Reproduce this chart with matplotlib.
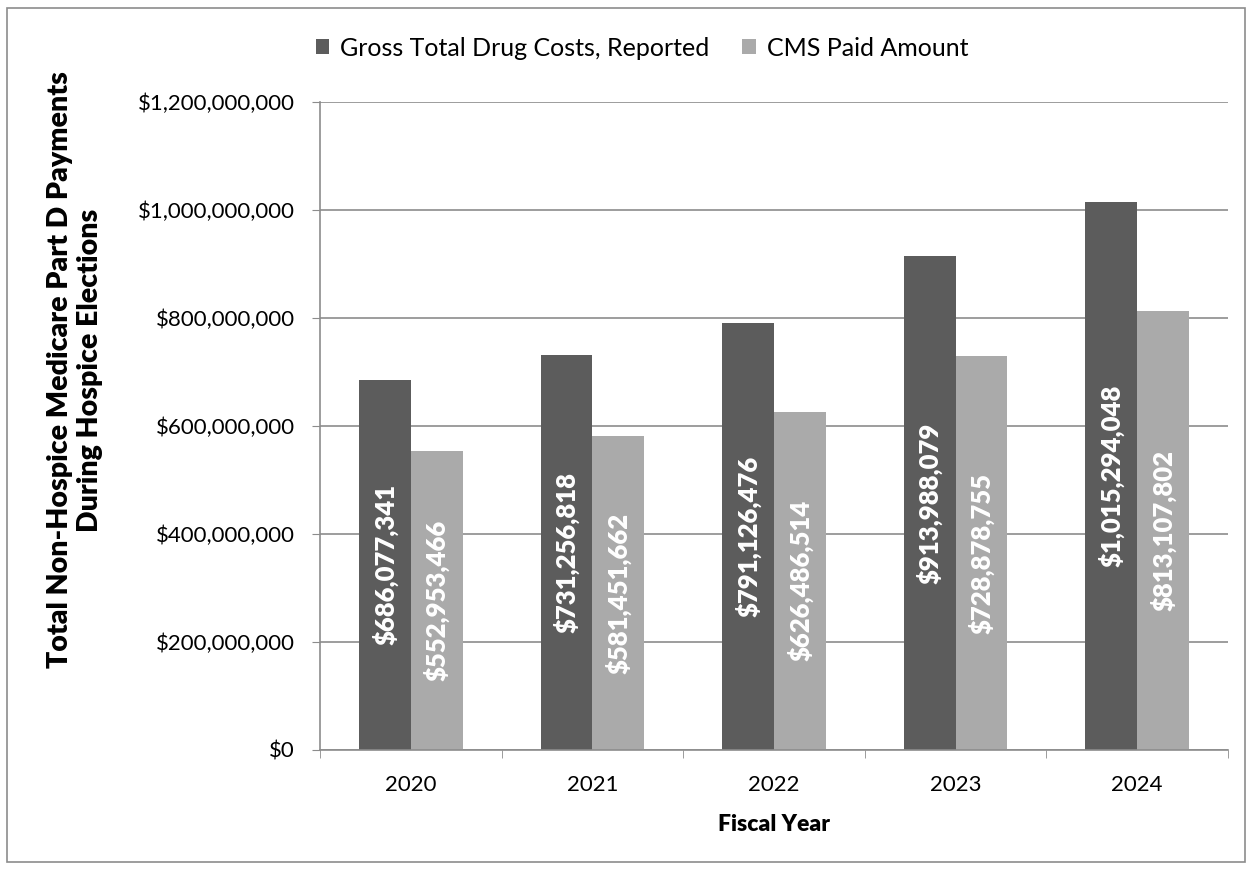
import matplotlib.pyplot as plt
import numpy as np
from matplotlib.patches import Rectangle
from matplotlib.ticker import FuncFormatter, FixedLocator

plt.rcParams['font.family'] = ['Lato', 'DejaVu Sans']

years = ["2020", "2021", "2022", "2023", "2024"]
gross = [686077341, 731256818, 791126476, 913988079, 1015294048]
cms_paid = [552953466, 581451662, 626486514, 728878755, 813107802]

dark = "#5c5c5c"
light = "#aaaaaa"
BOLD = 800
W, H = 1252, 869

fig = plt.figure(figsize=(12.52, 8.69), dpi=100)
ax = fig.add_axes([320/W, 1 - 750/H, (1228-320)/W, (750-102)/H])

x = np.arange(len(years))
w = 0.285
b1 = ax.bar(x - w/2, gross, w, color=dark, label="Gross Total Drug Costs, Reported", zorder=2)
b2 = ax.bar(x + w/2, cms_paid, w, color=light, label="CMS Paid Amount", zorder=2)

for bars, vals in ((b1, gross), (b2, cms_paid)):
    for r, v in zip(bars, vals):
        ax.text(r.get_x() + r.get_width()/2, v/2, "${:,}".format(v), rotation=90,
                ha="center", va="center", color="white", fontsize=18.5, fontweight=BOLD, zorder=3)

ax.set_xlim(-0.5, len(years) - 0.5)
ax.set_ylim(0, 1.2e9)
ax.set_yticks(np.arange(0, 1.2e9 + 1, 2e8))
ax.yaxis.set_major_formatter(FuncFormatter(lambda v, p: "${:,.0f}".format(v)))
ax.grid(axis="y", color="#8c8c8c", linewidth=1.2, zorder=0)
ax.set_xticks(x)
ax.set_xticklabels(years)
ax.xaxis.set_minor_locator(FixedLocator(np.arange(-0.5, len(years), 1)))
ax.tick_params(axis="x", which="major", length=0, labelsize=16, pad=18)
ax.tick_params(axis="x", which="minor", length=6, color="#8c8c8c", direction="out")
ax.tick_params(axis="y", length=6, color="#8c8c8c", labelsize=16, pad=12)
for s in ("top", "right"):
    ax.spines[s].set_visible(False)
for s in ("left", "bottom"):
    ax.spines[s].set_color("#8c8c8c")
    ax.spines[s].set_linewidth(1.2)

ax.set_xlabel("Fiscal Year", fontsize=16.5, fontweight=BOLD, labelpad=14)
fig.text(75/W, 1 - 370/H, "Total Non-Hospice Medicare Part D Payments\nDuring Hospice Elections",
         rotation=90, ha="center", va="center", multialignment="center",
         fontsize=20.5, fontweight=BOLD, linespacing=1.2)

fig.legend(loc="center left", bbox_to_anchor=(293/W, 1 - 48/H), ncol=2, frameon=False,
           fontsize=18, handlelength=0.55, handleheight=0.55, columnspacing=1.3, handletextpad=0.45)

fig.patches.append(Rectangle((7/W, 1 - 862/H), 1238/W, 854/H, transform=fig.transFigure,
                             fill=False, edgecolor="#8c8c8c", linewidth=1.2))

fig.savefig("out.png", dpi=100)
